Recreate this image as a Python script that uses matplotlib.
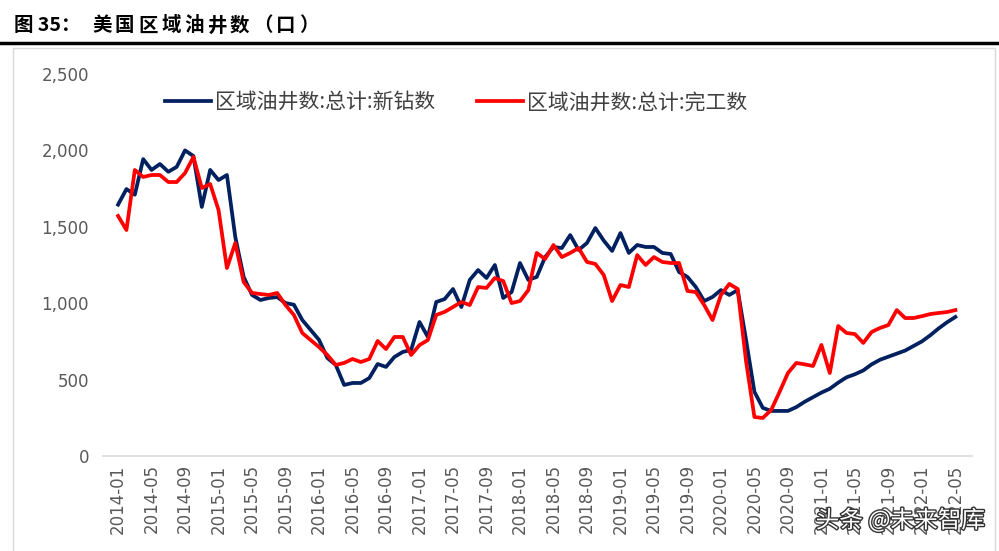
import matplotlib
matplotlib.use('Agg')
import matplotlib.pyplot as plt
import matplotlib.patheffects as pe
from matplotlib.patches import Rectangle
from matplotlib.lines import Line2D

plt.rcParams['font.family'] = ['Noto Sans CJK SC', 'DejaVu Sans']

# 月份 2014-01 .. 2022-05
months = []
for y in range(2014, 2023):
    for m in range(1, 13):
        if y == 2022 and m > 5:
            break
        months.append('%d-%02d' % (y, m))

# 新钻数
drilled = [1645, 1747, 1710, 1943, 1872, 1911, 1860, 1892, 2000, 1963,
           1630, 1872, 1806, 1839, 1433, 1172, 1054, 1021, 1034, 1040,
           1001, 990, 890, 825, 760, 641, 596, 465, 478, 478,
           510, 602, 583, 648, 681, 694, 877, 779, 1008, 1027,
           1093, 975, 1152, 1217, 1165, 1250, 1034, 1073, 1263, 1152,
           1172, 1302, 1368, 1361, 1446, 1348, 1394, 1492, 1410, 1342,
           1459, 1329, 1381, 1368, 1368, 1329, 1322, 1204, 1172, 1106,
           1014, 1041, 1086, 1054, 1086, 760, 420, 315, 295, 295,
           295, 320, 355, 385, 415, 440, 480, 515, 535, 560,
           600, 630, 650, 670, 690, 720, 750, 790, 835, 875,
           910]

# 完工数
completed = [1571, 1479, 1872, 1826, 1839, 1839, 1793, 1793, 1852, 1957,
             1754, 1780, 1610, 1230, 1394, 1139, 1067, 1060, 1054, 1067,
             988, 923, 805, 759, 713, 661, 596, 609, 635, 615,
             635, 753, 700, 779, 779, 661, 726, 759, 923, 943,
             975, 1008, 988, 1106, 1100, 1165, 1145, 1001, 1014, 1086,
             1329, 1289, 1381, 1302, 1329, 1361, 1270, 1257, 1185, 1014,
             1119, 1106, 1315, 1250, 1302, 1270, 1263, 1263, 1080, 1073,
             988, 890, 1054, 1126, 1093, 620, 255, 249, 301, 419,
             543, 609, 600, 589, 727, 543, 851, 805, 798, 740,
             812, 838, 857, 955, 903, 903, 915, 929, 936, 942,
             955]

y_ticks = [0, 500, 1000, 1500, 2000, 2500]

fig = plt.figure(figsize=(9.99, 5.51), dpi=100)

# 标题（字间距较宽，逐字放置）
fig.text(14 / 999, 0.953, '图 35：', fontsize=14, fontweight='bold',
         color='black', va='center', ha='left')
for k, ch in enumerate('美国区域油井数（口）'):
    fig.text((92 + 23 * k) / 999, 0.953, ch, fontsize=14, fontweight='bold',
             color='black', va='center', ha='left')
fig.add_artist(Line2D([0, 1], [0.922, 0.922], transform=fig.transFigure,
                      color='black', linewidth=2.5))
# 图框
fig.add_artist(Rectangle((0.013, -0.01), 0.983, 0.923, transform=fig.transFigure,
                         fill=False, edgecolor='#d9d9d9', linewidth=1))

ax = fig.add_axes([0.1031, 0.1724, 0.87, 0.6933])
x = list(range(len(months)))
ax.plot(x, drilled, color='#002060', linewidth=2.7, label='区域油井数:总计:新钻数')
ax.plot(x, completed, color='#ff0000', linewidth=2.7, label='区域油井数:总计:完工数')

ax.set_xlim(-1.8, 102)
ax.set_ylim(0, 2500)
ax.set_yticks(y_ticks)
ax.set_yticklabels(['{:,}'.format(v) for v in y_ticks], family='DejaVu Sans')
ax.set_xticks(x[::4])
ax.set_xticklabels(months[::4], rotation=90, family='DejaVu Sans')
ax.tick_params(axis='y', length=0, pad=10, labelsize=12, labelcolor='#595959')
ax.tick_params(axis='x', length=0, pad=6, labelsize=12, labelcolor='#595959')
for s in ['top', 'right', 'left']:
    ax.spines[s].set_visible(False)
ax.spines['bottom'].set_color('#d9d9d9')
ax.spines['bottom'].set_linewidth(1.2)

leg = ax.legend(loc='upper left', bbox_to_anchor=(0.0713, 0.955), ncol=2, frameon=False,
                fontsize=15, handlelength=2.2, columnspacing=2.0, handletextpad=0.2,
                borderpad=0, borderaxespad=0)
for t in leg.get_texts():
    t.set_color('#404040')

# 水印
fig.text(0.986, 0.056, '头条 @未来智库', fontsize=17, color='white', ha='right', va='center',
         path_effects=[pe.withStroke(linewidth=2, foreground='#333333')])

fig.savefig('out.png', dpi=100)
